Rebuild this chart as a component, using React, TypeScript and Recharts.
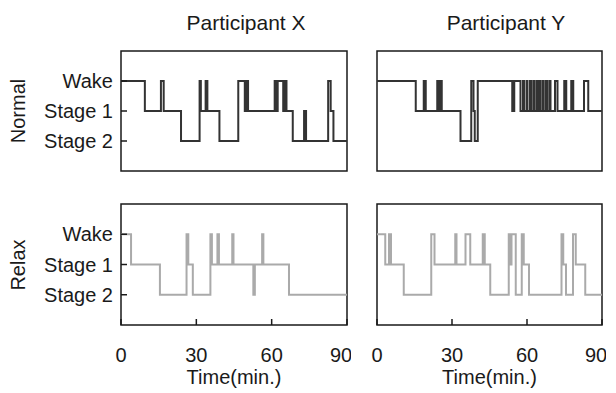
import React from "react";
import { LineChart, Line, XAxis, YAxis, ReferenceArea } from "recharts";

// sleep stage codes: Wake = 3, Stage 1 = 2, Stage 2 = 1
const STAGE_LABELS = ["", "Stage 2", "Stage 1", "Wake"];
const STAGE_TICKS = [1, 2, 3];
const TIME_TICKS = [0, 30, 60, 90];
const COLUMN_TITLES = ["Participant X", "Participant Y"];
const ROW_TITLES = ["Normal", "Relax"];

const normalXTimes = [0, 9.5, 15.9, 17.0, 23.9, 31.3, 31.8, 33.7, 34.4, 39.2, 46.7, 49.3, 49.9, 50.6, 61.2, 61.8, 62.4, 64.6, 65.2, 65.9, 68.4, 72.9, 73.7, 82.5, 83.5, 84.6, 90];
const normalXStages = [3, 2, 3, 2, 1, 3, 2, 3, 2, 1, 3, 2, 3, 2, 3, 2, 3, 2, 3, 2, 1, 2, 1, 3, 2, 1, 1];

const normalYTimes = [0, 15.5, 18.7, 19.5, 24.1, 24.7, 25.2, 25.9, 33.4, 37.7, 38.6, 39.1, 40.3, 54.1, 54.9, 57.4, 58.4, 58.8, 59.8, 60.2, 61.2, 61.6, 62.5, 62.9, 63.8, 64.2, 65.0, 65.4, 66.3, 66.7, 67.6, 68.0, 68.9, 69.4, 71.2, 72.2, 74.9, 75.7, 77.7, 78.5, 82.8, 84.5, 90];
const normalYStages = [3, 2, 3, 2, 3, 2, 3, 2, 1, 3, 2, 1, 3, 2, 3, 2, 3, 2, 3, 2, 3, 2, 3, 2, 3, 2, 3, 2, 3, 2, 3, 2, 3, 2, 3, 2, 3, 2, 3, 2, 3, 2, 2];

const relaxXTimes = [0, 4.0, 15.5, 26.1, 26.8, 28.6, 35.6, 36.2, 38.4, 39.0, 44.3, 44.8, 52.7, 53.3, 56.2, 56.7, 66.9, 90];
const relaxXStages = [3, 2, 1, 3, 2, 1, 3, 2, 3, 2, 3, 2, 1, 2, 3, 2, 1, 1];

const relaxYTimes = [0, 3.3, 4.8, 5.6, 10.7, 21.7, 23.0, 31.3, 31.8, 35.4, 37.3, 42.3, 43.1, 45.3, 52.7, 53.3, 53.8, 55.5, 57.9, 58.7, 60.8, 73.8, 74.5, 75.6, 78.4, 79.5, 83.3, 90];
const relaxYStages = [3, 2, 3, 2, 1, 3, 2, 3, 2, 3, 2, 3, 2, 1, 3, 2, 3, 1, 3, 2, 1, 3, 2, 1, 3, 2, 1, 1];

const toRows = (times: number[], stages: number[]) =>
  times.map((t, i) => ({ t, s: stages[i] }));

const FONT = "'Liberation Sans', Arial, Helvetica, sans-serif";
const INK = "#1a1a1a";

interface PanelProps {
  times: number[];
  stages: number[];
  color: string;
  left: number;
  top: number;
  width: number;
  height: number;
  showY: boolean;
  showX: boolean;
}

function Panel({ times, stages, color, left, top, width, height, showY, showX }: PanelProps) {
  const data = toRows(times, stages);
  const yW = showY ? 121 : 10;
  const xH = showX ? 64 : 6;
  const mt = 4;
  return (
    <div style={{ position: "absolute", left: left - yW, top: top - mt }}>
      <LineChart
        width={yW + width + 4}
        height={mt + height + xH}
        data={data}
        margin={{ top: mt, right: 4, bottom: 0, left: 0 }}
      >
        <XAxis
          dataKey="t"
          type="number"
          domain={[0, 90]}
          ticks={TIME_TICKS}
          height={xH}
          axisLine={false}
          tickSize={-6}
          tickMargin={29}
          tickLine={{ stroke: INK, strokeWidth: 1.5 }}
          tick={showX ? { fill: INK, fontSize: 20 } : false}
          label={
            showX
              ? { value: "Time(min.)", position: "insideBottom", offset: 5, fill: INK, fontSize: 20 }
              : undefined
          }
        />
        <YAxis
          type="number"
          domain={[0, 4]}
          ticks={STAGE_TICKS}
          width={yW}
          axisLine={false}
          tickSize={-6}
          tickMargin={14}
          tickLine={{ stroke: INK, strokeWidth: 1.5 }}
          tick={showY ? { fill: INK, fontSize: 20 } : false}
          tickFormatter={(v: number) => STAGE_LABELS[v]}
        />
        <Line
          type="stepAfter"
          dataKey="s"
          stroke={color}
          strokeWidth={2}
          dot={false}
          activeDot={false}
          isAnimationActive={false}
        />
        <ReferenceArea
          x1={0}
          x2={90}
          y1={0}
          y2={4}
          fill="none"
          fillOpacity={0}
          stroke={INK}
          strokeWidth={1.5}
          ifOverflow="visible"
        />
      </LineChart>
    </div>
  );
}

const titleStyle = (left: number, top: number, rotate = false): React.CSSProperties => ({
  position: "absolute",
  left,
  top,
  fontSize: rotate ? 20 : 21,
  lineHeight: 1,
  transform: `translate(-50%, -50%)${rotate ? " rotate(-90deg)" : ""}`,
  whiteSpace: "nowrap",
});

export default function App() {
  const dark = "#333333";
  const light = "#aaaaaa";
  return (
    <div
      style={{
        position: "absolute",
        left: 0,
        top: 0,
        width: 616,
        height: 393,
        overflow: "hidden",
        background: "#fff",
        fontFamily: FONT,
        color: INK,
      }}
    >
      <div style={titleStyle(246, 22)}>{COLUMN_TITLES[0]}</div>
      <div style={titleStyle(506, 22)}>{COLUMN_TITLES[1]}</div>
      <div style={titleStyle(18, 111, true)}>{ROW_TITLES[0]}</div>
      <div style={titleStyle(18, 265, true)}>{ROW_TITLES[1]}</div>

      <Panel times={normalXTimes} stages={normalXStages} color={dark} left={121} top={51} width={226} height={120} showY showX={false} />
      <Panel times={normalYTimes} stages={normalYStages} color={dark} left={377} top={51} width={225} height={120} showY={false} showX={false} />
      <Panel times={relaxXTimes} stages={relaxXStages} color={light} left={121} top={204} width={226} height={121} showY showX />
      <Panel times={relaxYTimes} stages={relaxYStages} color={light} left={377} top={204} width={225} height={121} showY={false} showX />
    </div>
  );
}
